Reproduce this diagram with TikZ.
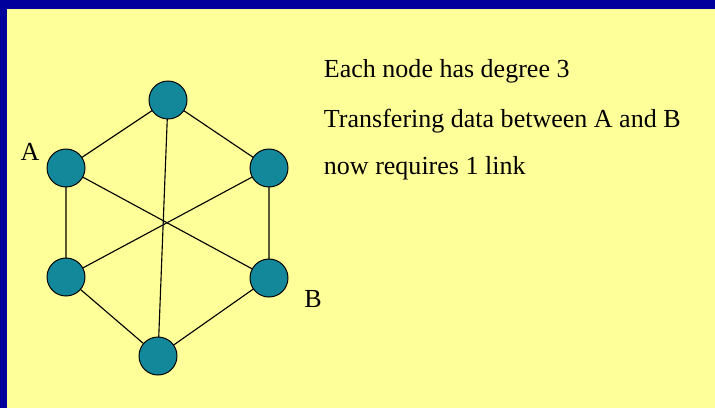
\documentclass[tikz,border=0pt]{standalone}
\usepackage{fontspec}
\setmainfont{Liberation Serif}
\usetikzlibrary{backgrounds}
\definecolor{frameblue}{HTML}{00009C}
\definecolor{slideyellow}{HTML}{FFFF99}
\definecolor{nodeteal}{HTML}{13889A}

\begin{document}
\begin{tikzpicture}[x=0.025cm, y=-0.025cm,
    hub/.style={circle, draw=black, fill=nodeteal, line width=0.7pt,
      minimum size=38*0.025cm, inner sep=0pt},
    link/.style={draw=black, line width=0.8pt},
    caption/.style={anchor=west, font=\fontsize{18.5}{22}\selectfont}]

  \useasboundingbox (0,0) rectangle (715,408);

  % --- the six nodes
  \node[hub] (top) at (168,100) {};
  \node[hub] (ul)  at (66,168) {};
  \node[hub] (ur)  at (269,168) {};
  \node[hub] (ll)  at (66,277) {};
  \node[hub] (lr)  at (269,278) {};
  \node[hub] (bot) at (158,356) {};

  \node[font=\fontsize{18.5}{22}\selectfont] (la) at (30,152) {A};
  \node[font=\fontsize{18.5}{22}\selectfont] (lb) at (313,299) {B};

  % --- slide frame, ring and diagonals, behind the nodes
  \begin{scope}[on background layer]
    \fill[frameblue] (0,0) rectangle (715,408);
    \fill[slideyellow] (7,9) rectangle (715,408);
    \draw[link] (top.center) -- (ul.center) -- (ll.center) -- (bot.center)
                -- (lr.center) -- (ur.center) -- (top.center);
    \draw[link] (top.center) -- (bot.center);
    \draw[link] (ul.center) -- (lr.center);
    \draw[link] (ur.center) -- (ll.center);
  \end{scope}

  % --- text
  \node[caption] (t1) at (319,71) {Each node has degree 3};
  \node[caption] (t2) at (319,121) {Transfering data between A and B};
  \node[caption] (t3) at (319,168) {now requires 1 link};
\end{tikzpicture}
\end{document}
